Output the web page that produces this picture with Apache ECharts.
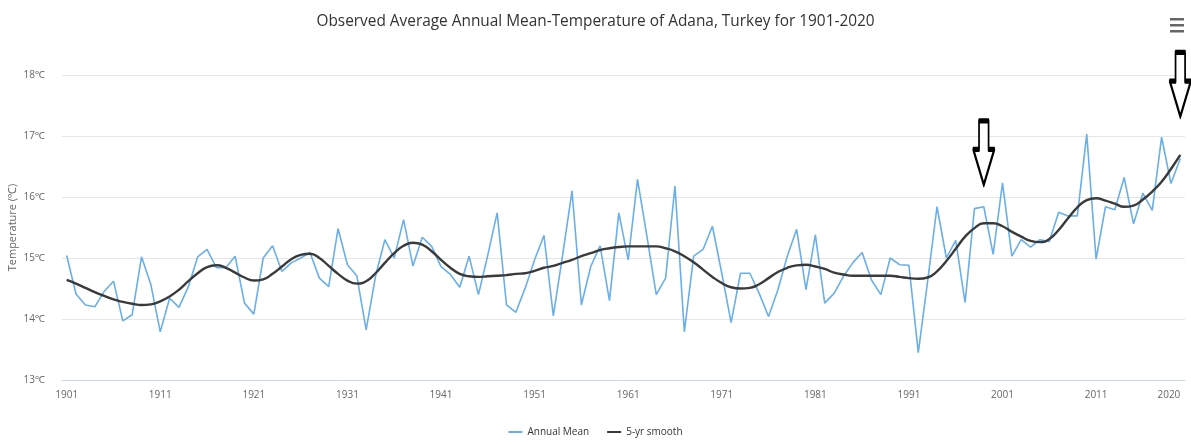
<!DOCTYPE html>
<html>
<head>
<meta charset="utf-8">
<title>Adana annual mean temperature 1901-2020</title>
<script src="https://cdn.jsdelivr.net/npm/echarts@6/dist/echarts.min.js"></script>
<style>
  html, body { margin: 0; padding: 0; background: #fff; }
  #chart { width: 1191px; height: 444px; }
</style>
</head>
<body>
<div id="chart"></div>
<script>
// Observed annual mean temperature of Adana (°C), 1901-2020
const firstYear = 1901;
const lastYear = 2020;
const years = [];
for (let y = firstYear; y <= lastYear; y++) years.push(String(y));

const annualMean = [
  15.04, 14.41, 14.23, 14.20, 14.45, 14.62, 13.97, 14.07, 15.02, 14.56,
  13.79, 14.34, 14.19, 14.53, 15.02, 15.14, 14.84, 14.84, 15.03, 14.26,
  14.08, 15.00, 15.20, 14.78, 14.92, 15.00, 15.09, 14.67, 14.53, 15.48,
  14.89, 14.71, 13.82, 14.70, 15.30, 15.00, 15.63, 14.87, 15.34, 15.19,
  14.86, 14.73, 14.52, 15.03, 14.40, 15.05, 15.74, 14.23, 14.11, 14.51,
  14.97, 15.37, 14.05, 15.05, 16.10, 14.23, 14.86, 15.20, 14.30, 15.74,
  14.97, 16.29, 15.36, 14.40, 14.67, 16.18, 13.79, 15.03, 15.14, 15.52,
  14.75, 13.94, 14.75, 14.75, 14.42, 14.04, 14.48, 15.03, 15.47, 14.48,
  15.38, 14.26, 14.42, 14.70, 14.92, 15.09, 14.64, 14.40, 15.00, 14.89,
  14.88, 13.45, 14.62, 15.84, 15.00, 15.29, 14.27, 15.81, 15.84, 15.06,
  16.23, 15.03, 15.30, 15.18, 15.30, 15.27, 15.75, 15.69, 15.69, 17.03,
  14.98, 15.84, 15.79, 16.32, 15.56, 16.06, 15.78, 16.98, 16.22, 16.63
];

const smooth5yr = [
  14.64, 14.58, 14.51, 14.44, 14.38, 14.32, 14.28, 14.25, 14.23, 14.24,
  14.29, 14.37, 14.48, 14.62, 14.75, 14.85, 14.88, 14.84, 14.76, 14.68,
  14.63, 14.65, 14.74, 14.86, 14.98, 15.05, 15.07, 15.00, 14.87, 14.74,
  14.63, 14.58, 14.62, 14.75, 14.92, 15.08, 15.20, 15.25, 15.22, 15.11,
  14.97, 14.84, 14.74, 14.70, 14.69, 14.70, 14.71, 14.72, 14.74, 14.75,
  14.79, 14.84, 14.87, 14.92, 14.97, 15.03, 15.08, 15.13, 15.16, 15.18,
  15.19, 15.19, 15.19, 15.19, 15.16, 15.11, 15.03, 14.93, 14.81, 14.69,
  14.59, 14.52, 14.50, 14.51, 14.57, 14.67, 14.77, 14.84, 14.88, 14.89,
  14.86, 14.82, 14.76, 14.73, 14.71, 14.71, 14.71, 14.71, 14.71, 14.69,
  14.67, 14.66, 14.68, 14.78, 14.95, 15.15, 15.35, 15.49, 15.57, 15.57,
  15.52, 15.43, 15.35, 15.28, 15.26, 15.31, 15.46, 15.65, 15.83, 15.95,
  15.98, 15.94, 15.89, 15.84, 15.86, 15.96, 16.09, 16.25, 16.46, 16.69
];

const yTicks = { min: 13, max: 18, step: 1 };

// Highlight arrows: [year, temperature at the arrow tip]
const arrowMarks = [
  ['1999', 16.20],
  ['2020', 17.32]
];

const arrowPath = 'path://M6,0 L16,0 L16,30 L22,30 L11,67 L0,30 L6,30 Z';
const font = '"Open Sans", "Noto Sans", sans-serif';

const chart = echarts.init(document.getElementById('chart'), null, { renderer: 'canvas' });

chart.setOption({
  animation: false,
  backgroundColor: '#ffffff',
  title: {
    text: 'Observed Average Annual Mean-Temperature of Adana, Turkey for 1901-2020',
    left: 'center',
    top: 9,
    textStyle: { fontFamily: font, fontSize: 15.4, fontWeight: 'normal', color: '#333333' }
  },
  legend: {
    bottom: 2,
    left: 'center',
    itemWidth: 14,
    itemHeight: 2,
    itemGap: 18,
    icon: 'rect',
    textStyle: { fontFamily: font, fontSize: 10, color: '#333333' },
    data: ['Annual Mean', '5-yr smooth']
  },
  grid: { left: 62, right: 6, top: 75, bottom: 64, containLabel: false, outerBoundsMode: 'none' },
  xAxis: {
    type: 'category',
    data: years,
    boundaryGap: true,
    axisLine: { lineStyle: { color: '#ccd6eb', width: 1 } },
    axisTick: { show: false },
    axisLabel: {
      interval: (index) => index % 10 === 0 || index === years.length - 1,
      margin: 10,
      color: '#666666',
      fontFamily: font,
      fontSize: 10,
      alignMaxLabel: 'right'
    },
    splitLine: { show: false }
  },
  yAxis: {
    type: 'value',
    min: yTicks.min,
    max: yTicks.max,
    interval: yTicks.step,
    name: 'Temperature (℃)',
    nameLocation: 'middle',
    nameGap: 44,
    nameMoveOverlap: false,
    nameTextStyle: { fontFamily: font, fontSize: 11, color: '#666666' },
    axisLine: { show: false },
    axisTick: { show: false },
    axisLabel: {
      formatter: '{value}℃',
      margin: 17,
      color: '#666666',
      fontFamily: font,
      fontSize: 10
    },
    splitLine: { lineStyle: { color: '#e6e6e6', width: 1 } }
  },
  series: [
    {
      name: 'Annual Mean',
      type: 'line',
      data: annualMean,
      showSymbol: false,
      symbol: 'none',
      color: '#6aafe6',
      lineStyle: { color: '#6aafe6', width: 1.6 },
      z: 2
    },
    {
      name: '5-yr smooth',
      type: 'line',
      data: smooth5yr,
      smooth: true,
      showSymbol: false,
      symbol: 'none',
      color: '#3a3a3a',
      lineStyle: { color: '#3a3a3a', width: 2.4 },
      z: 3,
      markPoint: {
        symbol: arrowPath,
        symbolSize: [21, 64],
        symbolOffset: [0, '-50%'],
        symbolKeepAspect: false,
        itemStyle: { color: '#ffffff', borderColor: '#000000', borderWidth: 3, borderJoin: 'round' },
        label: { show: false },
        silent: true,
        data: arrowMarks.map(([yr, t]) => ({ coord: [yr, t] }))
      }
    }
  ],
  graphic: [
    {
      type: 'group',
      right: 7,
      top: 18,
      children: [
        { type: 'rect', shape: { x: 0, y: 0, width: 14, height: 2.5 }, style: { fill: '#666666' } },
        { type: 'rect', shape: { x: 0, y: 6, width: 14, height: 2.5 }, style: { fill: '#666666' } },
        { type: 'rect', shape: { x: 0, y: 12, width: 14, height: 2.5 }, style: { fill: '#666666' } }
      ]
    }
  ]
});
</script>
</body>
</html>
